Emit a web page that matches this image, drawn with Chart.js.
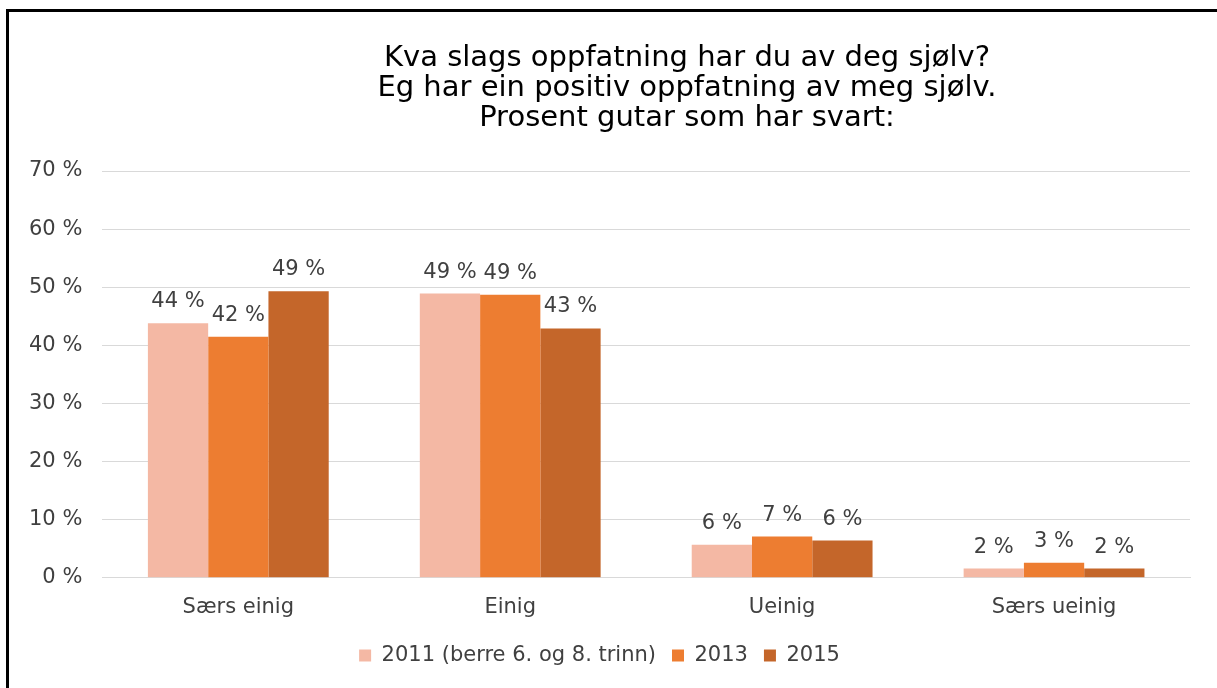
<!DOCTYPE html>
<html>
<head>
<meta charset="utf-8">
<script src="https://cdn.jsdelivr.net/npm/chart.js@4/dist/chart.umd.min.js"></script>
<style>
	html, body { margin: 0; padding: 0; background: #fff; overflow: hidden; }
	#frame { position: absolute; left: 6px; top: 9px; width: 1300px; height: 800px; border-top: 3px solid #000; border-left: 3px solid #000; }
	#wrap { position: absolute; left: 0; top: 0; width: 1217px; height: 688px; }
</style>
</head>
<body>
<div id="frame"></div>
<div id="wrap"><canvas id="myChart"></canvas></div>
<script>
const categories = ['Særs einig', 'Einig', 'Ueinig', 'Særs ueinig'];
const series2011 = [43.8, 48.9, 5.7, 1.6];
const series2013 = [41.5, 48.7, 7.1, 2.6];
const series2015 = [49.3, 42.9, 6.4, 1.6];
const seriesNames = ['2011 (berre 6. og 8. trinn)', '2013', '2015'];
const titleLines = ['Kva slags oppfatning har du av deg sjølv?', 'Eg har ein positiv oppfatning av meg sjølv.', 'Prosent gutar som har svart:'];

const fontFamily = '"DejaVu Sans", Verdana, sans-serif';

// title sits a bit right of the canvas centre in the original, so draw it here
const chartTitle = {
	id: 'chartTitle',
	afterDraw(chart) {
		const c = chart.ctx;
		c.save();
		c.font = '29px ' + fontFamily;
		c.fillStyle = '#000';
		c.textAlign = 'center';
		c.textBaseline = 'alphabetic';
		titleLines.forEach((line, i) => {
			c.fillText(line, 687, 66 + i * 30);
		});
		c.restore();
	}
};

// draws the "44 %" style labels above each bar
const barLabels = {
	id: 'barLabels',
	afterDatasetsDraw(chart) {
		const c = chart.ctx;
		c.save();
		c.font = '21px ' + fontFamily;
		c.fillStyle = '#404040';
		c.textAlign = 'center';
		c.textBaseline = 'alphabetic';
		chart.data.datasets.forEach((ds, i) => {
			chart.getDatasetMeta(i).data.forEach((bar, j) => {
				c.fillText(Math.round(ds.data[j]) + ' %', bar.x, bar.y - 16);
			});
		});
		c.restore();
	}
};

const ctx = document.getElementById('myChart');
var jsChart = new Chart(ctx, {
	type: 'bar',
	data: {
		labels: categories,
		datasets: [
			{ label: seriesNames[0], data: series2011, backgroundColor: '#F4B8A4' },
			{ label: seriesNames[1], data: series2013, backgroundColor: '#ED7D31' },
			{ label: seriesNames[2], data: series2015, backgroundColor: '#C4662A' }
		]
	},
	plugins: [barLabels, chartTitle],
	options: {
		responsive: true,
		maintainAspectRatio: false,
		animation: false,
		layout: { padding: { left: 9, right: 27, top: 171, bottom: 12 } },
		datasets: { bar: { barPercentage: 1, categoryPercentage: 0.665 } },
		scales: {
			y: {
				min: 0,
				max: 70,
				ticks: {
					stepSize: 10,
					padding: 20,
					color: '#404040',
					font: { family: fontFamily, size: 21 },
					callback: (v) => v + ' %'
				},
				grid: { color: '#D9D9D9', drawTicks: false },
				border: { display: false }
			},
			x: {
				ticks: {
					padding: 9,
					color: '#404040',
					font: { family: fontFamily, size: 21 }
				},
				grid: { display: false },
				border: { color: '#D9D9D9' }
			}
		},
		plugins: {
			title: { display: false },
			legend: {
				position: 'bottom',
				labels: {
					boxWidth: 12,
					boxHeight: 12,
					padding: 16,
					color: '#404040',
					font: { family: fontFamily, size: 21 }
				}
			},
			tooltip: { enabled: false }
		}
	}
});
</script>
</body>
</html>
